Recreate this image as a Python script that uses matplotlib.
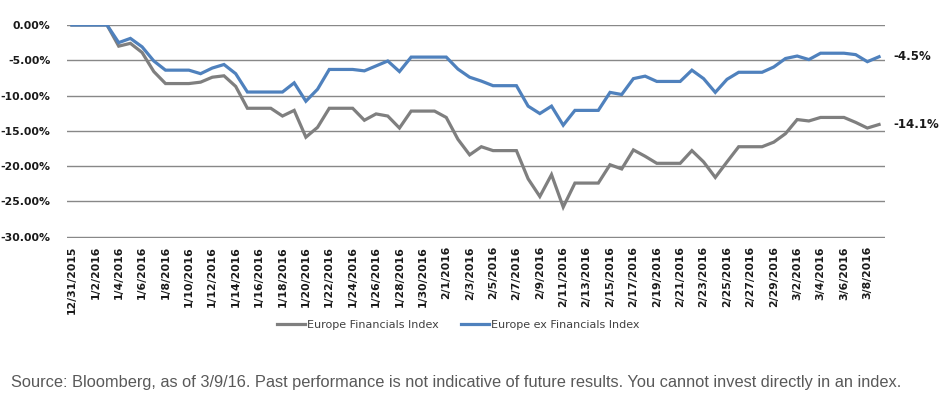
import matplotlib
matplotlib.use("Agg")
import matplotlib.pyplot as plt
from matplotlib.ticker import FuncFormatter
import pandas as pd

# daily dates, weekends included (flat segments)
dates = pd.date_range("2015-12-31", "2016-03-09", freq="D")

# cumulative return in %
europe_fin = [0, 0, 0, 0, -3.0, -2.6, -3.9, -6.6, -8.3, -8.3,
              -8.3, -8.1, -7.4, -7.2, -8.7, -11.8, -11.8, -11.8, -12.9, -12.1,
              -15.9, -14.5, -11.8, -11.8, -11.8, -13.5, -12.6, -12.9, -14.6, -12.2,
              -12.2, -12.2, -13.1, -16.2, -18.4, -17.25, -17.8, -17.8, -17.8, -21.8,
              -24.3, -21.2, -25.8, -22.4, -22.4, -22.4, -19.8, -20.4, -17.7, -18.6,
              -19.6, -19.6, -19.6, -17.8, -19.4, -21.6, -19.4, -17.25, -17.25, -17.25,
              -16.6, -15.4, -13.4, -13.6, -13.1, -13.1, -13.1, -13.8, -14.6, -14.1]
europe_ex_fin = [0, 0, 0, 0, -2.5, -1.9, -3.1, -5.1, -6.4, -6.4,
                 -6.4, -6.9, -6.1, -5.6, -6.9, -9.5, -9.5, -9.5, -9.5, -8.2,
                 -10.8, -9.1, -6.3, -6.3, -6.3, -6.5, -5.8, -5.1, -6.6, -4.55,
                 -4.55, -4.55, -4.55, -6.25, -7.4, -7.95, -8.6, -8.6, -8.6, -11.5,
                 -12.55, -11.5, -14.2, -12.1, -12.1, -12.1, -9.55, -9.85, -7.6, -7.25,
                 -8.0, -8.0, -8.0, -6.4, -7.6, -9.55, -7.7, -6.7, -6.7, -6.7,
                 -5.95, -4.75, -4.4, -4.9, -4.0, -4.0, -4.0, -4.2, -5.2, -4.5]
end_labels = ["-14.1%", "-4.5%"]
series_names = ["Europe Financials Index", "Europe ex Financials Index"]
colors = ["#7f7f7f", "#4f81bd"]
yticks = [0, -5, -10, -15, -20, -25, -30]
source = ("Source: Bloomberg, as of 3/9/16. Past performance is not indicative of "
          "future results. You cannot invest directly in an index.")

fig = plt.figure(figsize=(9.51, 4.03), dpi=100)
ax = fig.add_axes([0.0705, 0.41, 0.86, 0.528])

for vals, name, c, lab in zip([europe_fin, europe_ex_fin], series_names, colors, end_labels):
    ax.plot(dates, vals, color=c, lw=2.3, label=name, solid_joinstyle="miter")
    ax.annotate(lab, xy=(dates[-1], vals[-1]), xytext=(10, 0), textcoords="offset points",
                va="center", ha="left", fontsize=8.5, fontweight="bold", color="#1a1a1a")

ax.set_ylim(-30.15, 0)
ax.set_yticks(yticks)
ax.yaxis.set_major_formatter(FuncFormatter(lambda v, p: f"{v:.2f}%"))
ax.set_xlim(dates[0] - pd.Timedelta(hours=10), dates[-1] + pd.Timedelta(hours=12))
tick_dates = dates[::2]
ax.set_xticks(tick_dates)
ax.set_xticklabels([f"{d.month}/{d.day}/{d.year}" for d in tick_dates], rotation=90)

ax.grid(axis="y", color="#888888", lw=1.0)
ax.set_axisbelow(True)
for s in ax.spines.values():
    s.set_visible(False)
ax.tick_params(length=0, labelsize=7.8, labelcolor="#1a1a1a")
ax.tick_params(axis="y", pad=12)
ax.tick_params(axis="x", pad=6)
for t in ax.get_xticklabels() + ax.get_yticklabels():
    t.set_fontweight("bold")

fig.legend(loc="center", bbox_to_anchor=(0.482, 0.193), ncol=2, frameon=False,
           fontsize=8, handlelength=2.5, handletextpad=0.2, columnspacing=2.0,
           labelcolor="#404040")

fig.text(0.012, 0.052, source, fontsize=11.8, color="#595959", family="Liberation Sans",
         ha="left", va="center")

fig.savefig("out.png", dpi=100)
